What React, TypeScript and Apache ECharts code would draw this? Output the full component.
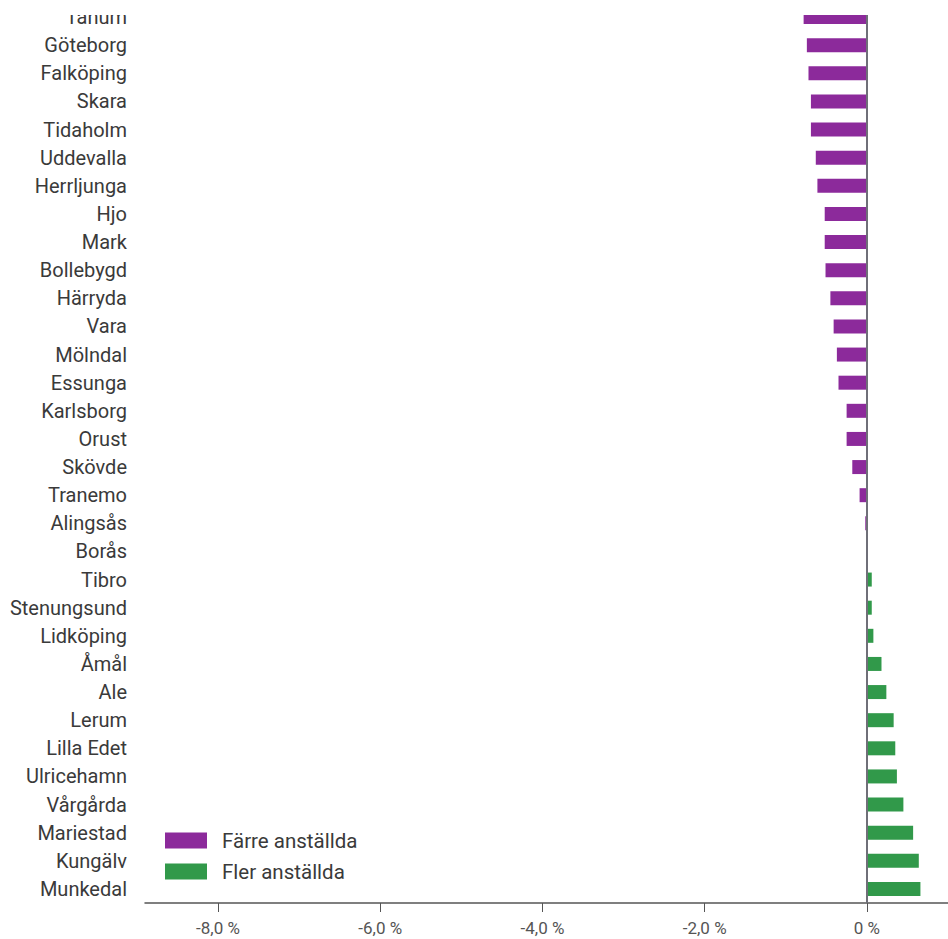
import React, { useEffect, useRef } from "react";
import * as echarts from "echarts";

const categories = [
  "Tanum", "Göteborg", "Falköping", "Skara", "Tidaholm", "Uddevalla", "Herrljunga", "Hjo",
  "Mark", "Bollebygd", "Härryda", "Vara", "Mölndal", "Essunga", "Karlsborg", "Orust",
  "Skövde", "Tranemo", "Alingsås", "Borås", "Tibro", "Stenungsund", "Lidköping", "Åmål",
  "Ale", "Lerum", "Lilla Edet", "Ulricehamn", "Vårgårda", "Mariestad", "Kungälv", "Munkedal",
];

const farreValues: (number | null)[] = [
  -0.78, -0.74, -0.72, -0.69, -0.69, -0.63, -0.61, -0.52,
  -0.52, -0.51, -0.45, -0.41, -0.37, -0.35, -0.25, -0.25,
  -0.18, -0.09, -0.02, 0, null, null, null, null,
  null, null, null, null, null, null, null, null,
];

const flerValues: (number | null)[] = [
  null, null, null, null, null, null, null, null,
  null, null, null, null, null, null, null, null,
  null, null, null, null, 0.06, 0.06, 0.08, 0.18,
  0.24, 0.33, 0.35, 0.37, 0.45, 0.57, 0.64, 0.66,
];

const tickValues = [-8, -6, -4, -2, 0];
const seriesNames = ["Färre anställda", "Fler anställda"];

const PURPLE = "#8c2a9b";
const GREEN = "#31994a";

export default function App() {
  const ref = useRef<HTMLDivElement>(null);
  useEffect(() => {
    document.body.style.margin = "0";
    if (!ref.current) return;
    const chart = echarts.init(ref.current, undefined, { renderer: "svg" });
    chart.setOption({
      animation: false,
      textStyle: { fontFamily: "Roboto" },
      grid: { left: 145, right: 0, top: 3, height: 900, containLabel: false },
      legend: {
        orient: "vertical",
        left: 160,
        top: 825,
        itemWidth: 42,
        itemHeight: 16,
        itemGap: 10,
        icon: "rect",
        textStyle: { fontSize: 20.5, color: "#3a3a3a", fontFamily: "Roboto", padding: [0, 0, 0, 10] },
        data: seriesNames,
      },
      xAxis: {
        type: "value",
        min: -8.9,
        max: 1.0,
        splitLine: { show: false },
        axisLine: { show: true, onZero: false, lineStyle: { color: "#555", width: 1.5 } },
        axisTick: { show: true, length: 9, customValues: tickValues, lineStyle: { color: "#555", width: 1 } },
        axisLabel: {
          customValues: tickValues,
          fontSize: 17,
          color: "#555",
          margin: 16,
          fontFamily: "Roboto",
          formatter: (v: number) => (v === 0 ? "0 %" : v.toFixed(1).replace(".", ",") + " %"),
        },
      },
      yAxis: {
        type: "category",
        data: categories,
        inverse: true,
        axisLine: { show: false },
        axisTick: { show: false },
        axisLabel: { fontSize: 20, color: "#3a3a3a", margin: 18, fontFamily: "Roboto" },
      },
      series: [
        {
          name: seriesNames[0],
          type: "bar",
          stack: "total",
          barWidth: 14,
          data: farreValues,
          itemStyle: { color: PURPLE },
          markLine: {
            silent: true,
            symbol: "none",
            label: { show: false },
            lineStyle: { color: "#6f6f78", width: 2, type: "solid" },
            data: [{ xAxis: 0 }],
          },
        },
        {
          name: seriesNames[1],
          type: "bar",
          stack: "total",
          barWidth: 14,
          data: flerValues,
          itemStyle: { color: GREEN },
        },
      ],
      graphic: [
        {
          type: "rect",
          z: 100,
          shape: { x: 0, y: 0, width: 948, height: 15 },
          style: { fill: "#fff" },
        },
      ],
    });
    return () => chart.dispose();
  }, []);
  return <div ref={ref} style={{ width: 948, height: 939 }} />;
}
